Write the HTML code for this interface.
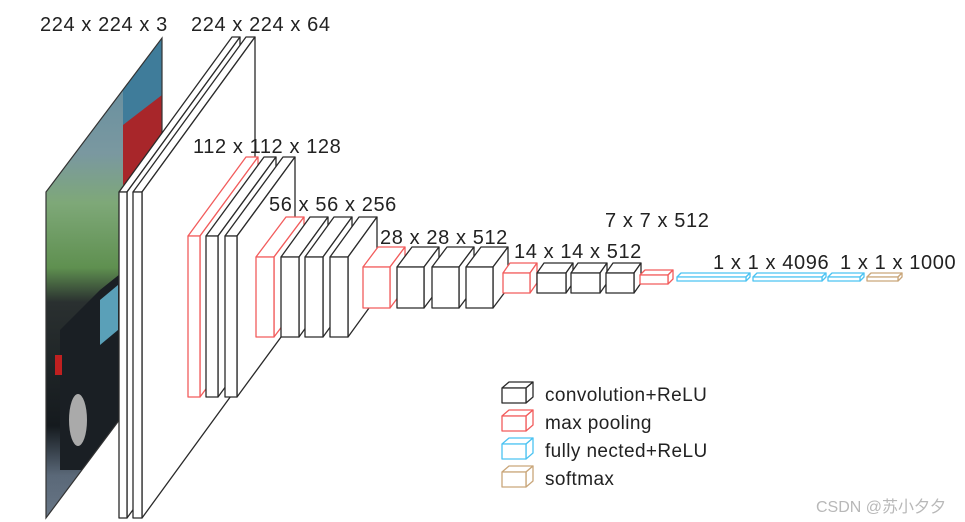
<!DOCTYPE html>
<html><head><meta charset="utf-8">
<style>
html,body{margin:0;padding:0;background:#fff;}
svg{display:block;}
text{font-family:"Liberation Sans","Noto Sans CJK SC",sans-serif;fill:#222;}
.l{font-size:20px;letter-spacing:0.6px;}
.g{font-size:19px;letter-spacing:0.4px;}
</style></head>
<body>
<svg id="s" width="965" height="522" viewBox="0 0 965 522" xmlns="http://www.w3.org/2000/svg">
<defs>
<linearGradient id="g" x1="0" y1="0" x2="0" y2="1">
<stop offset="0" stop-color="#5b8aa0"/>
<stop offset="0.25" stop-color="#7a98a0"/>
<stop offset="0.35" stop-color="#7ea878"/>
<stop offset="0.48" stop-color="#5f9050"/>
<stop offset="0.55" stop-color="#2a3030"/>
<stop offset="0.8" stop-color="#151a1e"/>
<stop offset="0.9" stop-color="#5a6878"/>
<stop offset="1" stop-color="#6a7888"/>
</linearGradient>
<clipPath id="ic"><polygon points="46,192 162,38 162,363 46,518"/></clipPath>
</defs>
<g clip-path="url(#ic)">
<rect x="40" y="30" width="130" height="495" fill="url(#g)"/>
<rect x="123" y="30" width="45" height="100" fill="#3f7c9a"/>
<polygon points="123,125 162,95 162,160 123,185" fill="#a8262a"/>
<polygon points="60,330 100,290 125,270 125,430 90,470 60,470" fill="#1a1f24"/>
<polygon points="100,300 118,285 118,330 100,345" fill="#5aa0b8"/>
<ellipse cx="78" cy="420" rx="9" ry="26" fill="#aaa"/>
<rect x="55" y="355" width="7" height="20" fill="#c02020"/>
</g>
<polygon points="46,192 162,38 162,363 46,518" fill="none" stroke="#333" stroke-width="1.2"/>
<g id="boxes"></g>
<text class="l" x="40" y="31">224 x 224 x 3</text>
<text class="l" x="191" y="31">224 x 224 x 64</text>
<text class="l" x="193" y="153">112 x 112 x 128</text>
<text class="l" x="269" y="211">56 x 56 x 256</text>
<text class="l" x="380" y="244">28 x 28 x 512</text>
<text class="l" x="514" y="258">14 x 14 x 512</text>
<text class="l" x="605" y="227">7 x 7 x 512</text>
<text class="l" x="713" y="269">1 x 1 x 4096</text>
<text class="l" x="840" y="269">1 x 1 x 1000</text>
<text class="g" x="545" y="401">convolution+ReLU</text>
<text class="g" x="545" y="429">max pooling</text>
<text class="g" x="545" y="457">fully nected+ReLU</text>
<text class="g" x="545" y="485">softmax</text>
<text x="816" y="512" font-size="16" style="fill:#b8b8b8">CSDN @苏小夕夕</text>
</svg>
<script>
var K='#2a2a2a',R='#f25c5c',B='#4cc3f2',T='#c9a67a';
var boxes=[
[119,192,127,518,113,155,K],[133,192,142,518,113,155,K],
[188,236,200,397,58,79,R],[206,236,218,397,58,79,K],[225,236,237,397,58,79,K],
[256,257,274,337,30,40,R],[281,257,299,337,29,40,K],[305,257,323,337,29,40,K],[330,257,348,337,29,40,K],
[363,267,390,308,15,20,R],[397,267,424,308,15,20,K],[432,267,459,308,15,20,K],[466,267,493,308,15,20,K],
[503,273,530,293,7,10,R],[537,273,566,293,7,10,K],[571,273,600,293,7,10,K],[606,273,634,293,7,10,K],
[640,275,668,284,5,5,R],
[677,277,746,281,4,4,B],[753,277,822,281,4,4,B],[828,277,860,281,4,4,B],[867,277,898,281,4,4,T],
[502,388,526,403,7,6,K],[502,416,526,431,7,6,R],[502,444,526,459,7,6,B],[502,472,526,487,7,6,T]
];
var h='';
boxes.forEach(function(b){
var x1=b[0],y1=b[1],x2=b[2],y2=b[3],dx=b[4],dy=b[5],c=b[6];
var st=' fill="#fff" stroke="'+c+'" stroke-width="1.3" stroke-linejoin="round"';
h+='<polygon points="'+x1+','+y1+' '+(x1+dx)+','+(y1-dy)+' '+(x2+dx)+','+(y1-dy)+' '+x2+','+y1+'"'+st+'/>';
h+='<polygon points="'+x2+','+y1+' '+(x2+dx)+','+(y1-dy)+' '+(x2+dx)+','+(y2-dy)+' '+x2+','+y2+'"'+st+'/>';
h+='<rect x="'+x1+'" y="'+y1+'" width="'+(x2-x1)+'" height="'+(y2-y1)+'"'+st+'/>';
});
document.getElementById('boxes').innerHTML=h;
</script>
</body></html>
